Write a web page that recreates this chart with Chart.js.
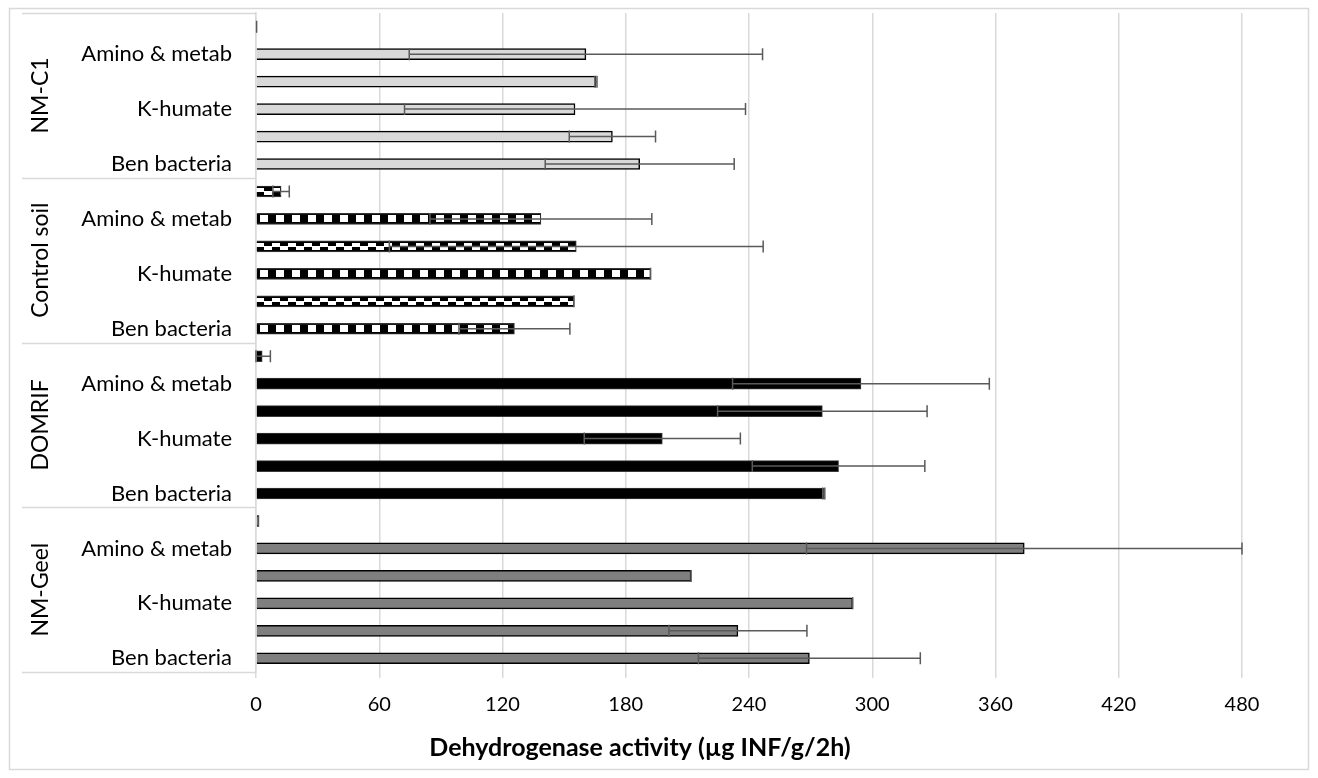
<!DOCTYPE html>
<html>
<head>
<meta charset="utf-8">
<title>Dehydrogenase activity</title>
<script src="https://cdn.jsdelivr.net/npm/chart.js@4.4.1/dist/chart.umd.min.js"></script>
<style>
    body { margin: 0; background: #fff; }
    #wrap { width: 1318px; height: 778px; }
</style>
</head>
<body>
<div id="wrap"><canvas id="chart" width="1318" height="778"></canvas></div>
<script>
//soil groups, bottom to top as they sit on the axis
const groups = ["NM-Geel", "DOMRIF", "Control soil", "NM-C1"];
//treatments inside every group, bottom to top (only every second one is labelled)
const treatments = ["Ben bacteria", "", "K-humate", "", "Amino & metab", ""];

//mean activity and error per treatment (ug INF/g/2h)
const geelMean = [269.4, 234.6, 290.5, 211.8, 374.0, 1.2];
const geelErr = [54, 33.6, 0, 0, 106, 0];
const domrifMean = [276.4, 283.6, 197.8, 275.7, 294.5, 3.0];
const domrifErr = [0.5, 42, 38, 51, 62.5, 4];
const controlMean = [125.8, 154.8, 192.1, 155.9, 138.7, 12.2];
const controlErr = [27, 0, 0, 91, 54, 4];
const c1Mean = [186.8, 173.5, 155.3, 165.5, 160.6, 0.3];
const c1Err = [46, 21, 83, 0.5, 86, 0];

//x axis
const xMin = 0;
const xMax = 480;
const xStep = 60;
const xTitle = "Dehydrogenase activity (µg INF/g/2h)";

//global variables
let go = {};
const BAR = 11;   // bar thickness in px
const FONT = "Lato, 'Open Sans', sans-serif";

//checker tiles for the control soil bars
function makeTile(kind) {
    let tile = document.createElement("canvas");
    tile.width = 16;
    tile.height = BAR;
    let c = tile.getContext("2d");
    c.fillStyle = "#000";
    c.fillRect(0, 0, 16, BAR);
    c.fillStyle = "#fff";
    if (kind === "big") {
        c.fillRect(4, 2, 8, 7);
    } else {
        c.fillRect(0, 2, 8, 4);
        c.fillRect(8, 5, 8, 4);
    }
    return tile;
}

//pattern fill lined up with each bar
function controlFill(ctx) {
    let y = ctx.chart.scales.y;
    let area = ctx.chart.chartArea;
    if (!y || !area || ctx.type !== "data") return "#000";
    let yc = y.getPixelForValue(ctx.dataIndex);
    if (!isFinite(yc)) return "#000";
    let tile = (ctx.dataIndex % 2 === 0) ? go.bigTile : go.smallTile;
    let pat = ctx.chart.ctx.createPattern(tile, "repeat");
    pat.setTransform(new DOMMatrix().translate(area.left, Math.round(yc - BAR / 2)));
    return pat;
}

//spread one group's values over the full category list
function place(values, groupIndex) {
    let out = new Array(groups.length * treatments.length).fill(null);
    values.forEach((v, i) => { out[groupIndex * treatments.length + i] = v; });
    return out;
}

//error bars drawn over the bars, caps at both ends
const errorBars = {
    id: "errorBars",
    afterDatasetsDraw(chart) {
        let c = chart.ctx;
        let xs = chart.scales.x;
        c.save();
        c.strokeStyle = "#5a5a5a";
        c.lineWidth = 1.5;
        chart.data.datasets.forEach((ds, i) => {
            chart.getDatasetMeta(i).data.forEach((bar, j) => {
                if (ds.data[j] == null) return;
                let lo = xs.getPixelForValue(Math.max(xMin, ds.data[j] - ds.errors[j]));
                let hi = xs.getPixelForValue(ds.data[j] + ds.errors[j]);
                let y = bar.y;
                c.beginPath();
                c.moveTo(lo, y);
                c.lineTo(hi, y);
                c.moveTo(lo, y - 6);
                c.lineTo(lo, y + 6);
                c.moveTo(hi, y - 6);
                c.lineTo(hi, y + 6);
                c.stroke();
            });
        });
        c.restore();
    }
};

//outer frame, group boxes, group names and the axis title
const frame = {
    id: "frame",
    afterDraw(chart) {
        let c = chart.ctx;
        let ys = chart.scales.y;
        let area = chart.chartArea;
        let n = treatments.length;
        c.save();
        c.strokeStyle = "#d9d9d9";
        c.lineWidth = 1.5;
        c.strokeRect(9.5, 8.5, 1299, 761);

        //separators between the groups
        for (let g = 0; g <= groups.length; g++) {
            let y = Math.round(ys.getPixelForValue(g * n - 0.5)) + 0.5;
            c.beginPath();
            c.moveTo(22, y);
            c.lineTo(area.left, y);
            c.stroke();
        }

        //group names, rotated
        c.fillStyle = "#000";
        c.font = "23px " + FONT;
        c.textAlign = "center";
        c.textBaseline = "middle";
        groups.forEach((name, g) => {
            let mid = ys.getPixelForValue(g * n + (n - 1) / 2);
            c.save();
            c.translate(41, mid);
            c.rotate(-Math.PI / 2);
            c.fillText(name, 0, 0);
            c.restore();
        });

        //x axis title
        c.font = "bold 25px " + FONT;
        c.fillText(xTitle, 640, 748);
        c.restore();
    }
};

//main entry point
document.addEventListener("DOMContentLoaded", () => {
    go.bigTile = makeTile("big");
    go.smallTile = makeTile("small");

    //1. category labels for all groups
    let labels = [];
    groups.forEach(() => treatments.forEach(t => labels.push(t)));

    //2. one dataset per soil group
    let common = { barThickness: BAR, grouped: false };
    let datasets = [
        Object.assign({ label: groups[0], data: place(geelMean, 0), errors: place(geelErr, 0),
            backgroundColor: "#7f7f7f", borderColor: "#000", borderWidth: 1.5 }, common),
        Object.assign({ label: groups[1], data: place(domrifMean, 1), errors: place(domrifErr, 1),
            backgroundColor: "#000", borderColor: "#3a3a3a", borderWidth: 1 }, common),
        Object.assign({ label: groups[2], data: place(controlMean, 2), errors: place(controlErr, 2),
            backgroundColor: controlFill, borderColor: "#333", borderWidth: 1.2 }, common),
        Object.assign({ label: groups[3], data: place(c1Mean, 3), errors: place(c1Err, 3),
            backgroundColor: "#d9d9d9", borderColor: "#000", borderWidth: 1.5 }, common)
    ];

    //3. draw the chart
    let context = document.getElementById("chart").getContext("2d");
    go.chart = new Chart(context, {
        type: "bar",
        data: { labels: labels, datasets: datasets },
        plugins: [errorBars, frame],
        options: {
            indexAxis: "y",
            responsive: false,
            animation: false,
            layout: { padding: { left: 9, right: 76, top: 13, bottom: 0 } },
            plugins: {
                legend: { display: false },
                tooltip: { enabled: false }
            },
            scales: {
                x: {
                    min: xMin,
                    max: xMax,
                    afterFit: s => { s.height = 106; },
                    ticks: { stepSize: xStep, color: "#000", padding: 15, font: { family: FONT, size: 20 } },
                    grid: { color: "#d9d9d9", lineWidth: 1.5, tickLength: 6 },
                    border: { display: false }
                },
                y: {
                    reverse: true,
                    afterFit: s => { s.width = 247; s.paddingTop = 0; s.paddingBottom = 0; },
                    ticks: { autoSkip: false, color: "#000", padding: 24, font: { family: FONT, size: 22 } },
                    grid: { display: false, drawTicks: false },
                    border: { display: true, color: "#d9d9d9", width: 1.5 }
                }
            }
        }
    });
});
</script>
</body>
</html>
